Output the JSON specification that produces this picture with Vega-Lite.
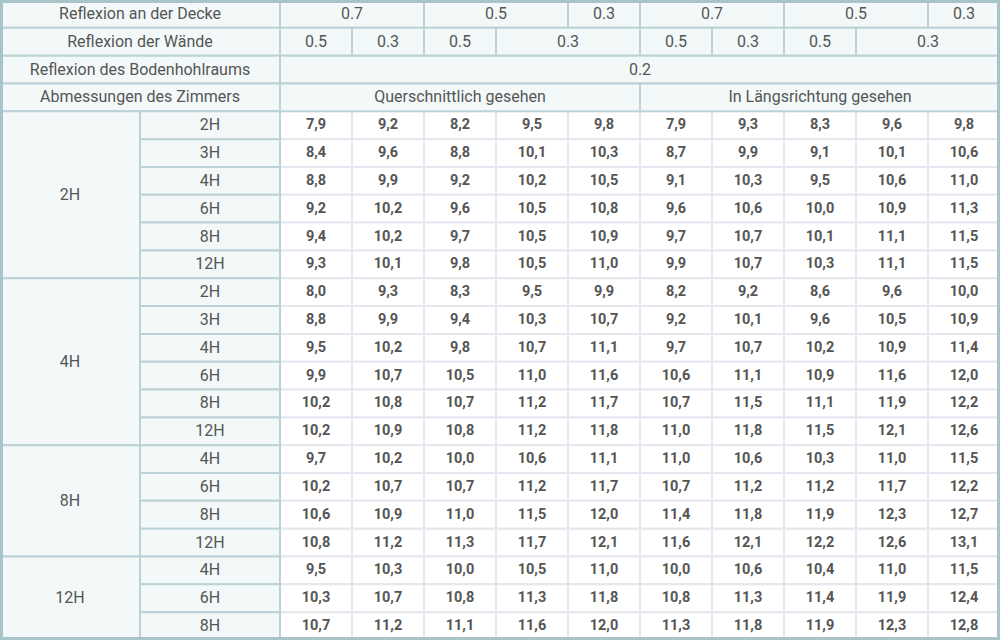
{
  "$schema": "https://vega.github.io/schema/vega-lite/v6.json",
  "width": 1000,
  "height": 640,
  "padding": 0,
  "autosize": {"type": "none"},
  "background": "#ffffff",
  "config": {"view": {"stroke": null}},
  "datasets": {
    "h": [
      {"r0":0,"r1":1,"c0":0,"c1":2,"t":"Reflexion an der Decke"},
      {"r0":0,"r1":1,"c0":2,"c1":4,"t":"0.7"},
      {"r0":0,"r1":1,"c0":4,"c1":6,"t":"0.5"},
      {"r0":0,"r1":1,"c0":6,"c1":7,"t":"0.3"},
      {"r0":0,"r1":1,"c0":7,"c1":9,"t":"0.7"},
      {"r0":0,"r1":1,"c0":9,"c1":11,"t":"0.5"},
      {"r0":0,"r1":1,"c0":11,"c1":12,"t":"0.3"},
      {"r0":1,"r1":2,"c0":0,"c1":2,"t":"Reflexion der Wände"},
      {"r0":1,"r1":2,"c0":2,"c1":3,"t":"0.5"},
      {"r0":1,"r1":2,"c0":3,"c1":4,"t":"0.3"},
      {"r0":1,"r1":2,"c0":4,"c1":5,"t":"0.5"},
      {"r0":1,"r1":2,"c0":5,"c1":7,"t":"0.3"},
      {"r0":1,"r1":2,"c0":7,"c1":8,"t":"0.5"},
      {"r0":1,"r1":2,"c0":8,"c1":9,"t":"0.3"},
      {"r0":1,"r1":2,"c0":9,"c1":10,"t":"0.5"},
      {"r0":1,"r1":2,"c0":10,"c1":12,"t":"0.3"},
      {"r0":2,"r1":3,"c0":0,"c1":2,"t":"Reflexion des Bodenhohlraums"},
      {"r0":2,"r1":3,"c0":2,"c1":12,"t":"0.2"},
      {"r0":3,"r1":4,"c0":0,"c1":2,"t":"Abmessungen des Zimmers"},
      {"r0":3,"r1":4,"c0":2,"c1":7,"t":"Querschnittlich gesehen"},
      {"r0":3,"r1":4,"c0":7,"c1":12,"t":"In Längsrichtung gesehen"},
      {"r0":4,"r1":10,"c0":0,"c1":1,"t":"2H"},
      {"r0":10,"r1":16,"c0":0,"c1":1,"t":"4H"},
      {"r0":16,"r1":20,"c0":0,"c1":1,"t":"8H"},
      {"r0":20,"r1":23,"c0":0,"c1":1,"t":"12H"},
      {"r0":4,"r1":5,"c0":1,"c1":2,"t":"2H"},
      {"r0":5,"r1":6,"c0":1,"c1":2,"t":"3H"},
      {"r0":6,"r1":7,"c0":1,"c1":2,"t":"4H"},
      {"r0":7,"r1":8,"c0":1,"c1":2,"t":"6H"},
      {"r0":8,"r1":9,"c0":1,"c1":2,"t":"8H"},
      {"r0":9,"r1":10,"c0":1,"c1":2,"t":"12H"},
      {"r0":10,"r1":11,"c0":1,"c1":2,"t":"2H"},
      {"r0":11,"r1":12,"c0":1,"c1":2,"t":"3H"},
      {"r0":12,"r1":13,"c0":1,"c1":2,"t":"4H"},
      {"r0":13,"r1":14,"c0":1,"c1":2,"t":"6H"},
      {"r0":14,"r1":15,"c0":1,"c1":2,"t":"8H"},
      {"r0":15,"r1":16,"c0":1,"c1":2,"t":"12H"},
      {"r0":16,"r1":17,"c0":1,"c1":2,"t":"4H"},
      {"r0":17,"r1":18,"c0":1,"c1":2,"t":"6H"},
      {"r0":18,"r1":19,"c0":1,"c1":2,"t":"8H"},
      {"r0":19,"r1":20,"c0":1,"c1":2,"t":"12H"},
      {"r0":20,"r1":21,"c0":1,"c1":2,"t":"4H"},
      {"r0":21,"r1":22,"c0":1,"c1":2,"t":"6H"},
      {"r0":22,"r1":23,"c0":1,"c1":2,"t":"8H"}
    ],
    "v": [
      {"r":1,"c":1,"t":"7,9"},{"r":1,"c":2,"t":"9,2"},{"r":1,"c":3,"t":"8,2"},{"r":1,"c":4,"t":"9,5"},{"r":1,"c":5,"t":"9,8"},{"r":1,"c":6,"t":"7,9"},{"r":1,"c":7,"t":"9,3"},{"r":1,"c":8,"t":"8,3"},{"r":1,"c":9,"t":"9,6"},{"r":1,"c":10,"t":"9,8"},
      {"r":2,"c":1,"t":"8,4"},{"r":2,"c":2,"t":"9,6"},{"r":2,"c":3,"t":"8,8"},{"r":2,"c":4,"t":"10,1"},{"r":2,"c":5,"t":"10,3"},{"r":2,"c":6,"t":"8,7"},{"r":2,"c":7,"t":"9,9"},{"r":2,"c":8,"t":"9,1"},{"r":2,"c":9,"t":"10,1"},{"r":2,"c":10,"t":"10,6"},
      {"r":3,"c":1,"t":"8,8"},{"r":3,"c":2,"t":"9,9"},{"r":3,"c":3,"t":"9,2"},{"r":3,"c":4,"t":"10,2"},{"r":3,"c":5,"t":"10,5"},{"r":3,"c":6,"t":"9,1"},{"r":3,"c":7,"t":"10,3"},{"r":3,"c":8,"t":"9,5"},{"r":3,"c":9,"t":"10,6"},{"r":3,"c":10,"t":"11,0"},
      {"r":4,"c":1,"t":"9,2"},{"r":4,"c":2,"t":"10,2"},{"r":4,"c":3,"t":"9,6"},{"r":4,"c":4,"t":"10,5"},{"r":4,"c":5,"t":"10,8"},{"r":4,"c":6,"t":"9,6"},{"r":4,"c":7,"t":"10,6"},{"r":4,"c":8,"t":"10,0"},{"r":4,"c":9,"t":"10,9"},{"r":4,"c":10,"t":"11,3"},
      {"r":5,"c":1,"t":"9,4"},{"r":5,"c":2,"t":"10,2"},{"r":5,"c":3,"t":"9,7"},{"r":5,"c":4,"t":"10,5"},{"r":5,"c":5,"t":"10,9"},{"r":5,"c":6,"t":"9,7"},{"r":5,"c":7,"t":"10,7"},{"r":5,"c":8,"t":"10,1"},{"r":5,"c":9,"t":"11,1"},{"r":5,"c":10,"t":"11,5"},
      {"r":6,"c":1,"t":"9,3"},{"r":6,"c":2,"t":"10,1"},{"r":6,"c":3,"t":"9,8"},{"r":6,"c":4,"t":"10,5"},{"r":6,"c":5,"t":"11,0"},{"r":6,"c":6,"t":"9,9"},{"r":6,"c":7,"t":"10,7"},{"r":6,"c":8,"t":"10,3"},{"r":6,"c":9,"t":"11,1"},{"r":6,"c":10,"t":"11,5"},
      {"r":7,"c":1,"t":"8,0"},{"r":7,"c":2,"t":"9,3"},{"r":7,"c":3,"t":"8,3"},{"r":7,"c":4,"t":"9,5"},{"r":7,"c":5,"t":"9,9"},{"r":7,"c":6,"t":"8,2"},{"r":7,"c":7,"t":"9,2"},{"r":7,"c":8,"t":"8,6"},{"r":7,"c":9,"t":"9,6"},{"r":7,"c":10,"t":"10,0"},
      {"r":8,"c":1,"t":"8,8"},{"r":8,"c":2,"t":"9,9"},{"r":8,"c":3,"t":"9,4"},{"r":8,"c":4,"t":"10,3"},{"r":8,"c":5,"t":"10,7"},{"r":8,"c":6,"t":"9,2"},{"r":8,"c":7,"t":"10,1"},{"r":8,"c":8,"t":"9,6"},{"r":8,"c":9,"t":"10,5"},{"r":8,"c":10,"t":"10,9"},
      {"r":9,"c":1,"t":"9,5"},{"r":9,"c":2,"t":"10,2"},{"r":9,"c":3,"t":"9,8"},{"r":9,"c":4,"t":"10,7"},{"r":9,"c":5,"t":"11,1"},{"r":9,"c":6,"t":"9,7"},{"r":9,"c":7,"t":"10,7"},{"r":9,"c":8,"t":"10,2"},{"r":9,"c":9,"t":"10,9"},{"r":9,"c":10,"t":"11,4"},
      {"r":10,"c":1,"t":"9,9"},{"r":10,"c":2,"t":"10,7"},{"r":10,"c":3,"t":"10,5"},{"r":10,"c":4,"t":"11,0"},{"r":10,"c":5,"t":"11,6"},{"r":10,"c":6,"t":"10,6"},{"r":10,"c":7,"t":"11,1"},{"r":10,"c":8,"t":"10,9"},{"r":10,"c":9,"t":"11,6"},{"r":10,"c":10,"t":"12,0"},
      {"r":11,"c":1,"t":"10,2"},{"r":11,"c":2,"t":"10,8"},{"r":11,"c":3,"t":"10,7"},{"r":11,"c":4,"t":"11,2"},{"r":11,"c":5,"t":"11,7"},{"r":11,"c":6,"t":"10,7"},{"r":11,"c":7,"t":"11,5"},{"r":11,"c":8,"t":"11,1"},{"r":11,"c":9,"t":"11,9"},{"r":11,"c":10,"t":"12,2"},
      {"r":12,"c":1,"t":"10,2"},{"r":12,"c":2,"t":"10,9"},{"r":12,"c":3,"t":"10,8"},{"r":12,"c":4,"t":"11,2"},{"r":12,"c":5,"t":"11,8"},{"r":12,"c":6,"t":"11,0"},{"r":12,"c":7,"t":"11,8"},{"r":12,"c":8,"t":"11,5"},{"r":12,"c":9,"t":"12,1"},{"r":12,"c":10,"t":"12,6"},
      {"r":13,"c":1,"t":"9,7"},{"r":13,"c":2,"t":"10,2"},{"r":13,"c":3,"t":"10,0"},{"r":13,"c":4,"t":"10,6"},{"r":13,"c":5,"t":"11,1"},{"r":13,"c":6,"t":"11,0"},{"r":13,"c":7,"t":"10,6"},{"r":13,"c":8,"t":"10,3"},{"r":13,"c":9,"t":"11,0"},{"r":13,"c":10,"t":"11,5"},
      {"r":14,"c":1,"t":"10,2"},{"r":14,"c":2,"t":"10,7"},{"r":14,"c":3,"t":"10,7"},{"r":14,"c":4,"t":"11,2"},{"r":14,"c":5,"t":"11,7"},{"r":14,"c":6,"t":"10,7"},{"r":14,"c":7,"t":"11,2"},{"r":14,"c":8,"t":"11,2"},{"r":14,"c":9,"t":"11,7"},{"r":14,"c":10,"t":"12,2"},
      {"r":15,"c":1,"t":"10,6"},{"r":15,"c":2,"t":"10,9"},{"r":15,"c":3,"t":"11,0"},{"r":15,"c":4,"t":"11,5"},{"r":15,"c":5,"t":"12,0"},{"r":15,"c":6,"t":"11,4"},{"r":15,"c":7,"t":"11,8"},{"r":15,"c":8,"t":"11,9"},{"r":15,"c":9,"t":"12,3"},{"r":15,"c":10,"t":"12,7"},
      {"r":16,"c":1,"t":"10,8"},{"r":16,"c":2,"t":"11,2"},{"r":16,"c":3,"t":"11,3"},{"r":16,"c":4,"t":"11,7"},{"r":16,"c":5,"t":"12,1"},{"r":16,"c":6,"t":"11,6"},{"r":16,"c":7,"t":"12,1"},{"r":16,"c":8,"t":"12,2"},{"r":16,"c":9,"t":"12,6"},{"r":16,"c":10,"t":"13,1"},
      {"r":17,"c":1,"t":"9,5"},{"r":17,"c":2,"t":"10,3"},{"r":17,"c":3,"t":"10,0"},{"r":17,"c":4,"t":"10,5"},{"r":17,"c":5,"t":"11,0"},{"r":17,"c":6,"t":"10,0"},{"r":17,"c":7,"t":"10,6"},{"r":17,"c":8,"t":"10,4"},{"r":17,"c":9,"t":"11,0"},{"r":17,"c":10,"t":"11,5"},
      {"r":18,"c":1,"t":"10,3"},{"r":18,"c":2,"t":"10,7"},{"r":18,"c":3,"t":"10,8"},{"r":18,"c":4,"t":"11,3"},{"r":18,"c":5,"t":"11,8"},{"r":18,"c":6,"t":"10,8"},{"r":18,"c":7,"t":"11,3"},{"r":18,"c":8,"t":"11,4"},{"r":18,"c":9,"t":"11,9"},{"r":18,"c":10,"t":"12,4"},
      {"r":19,"c":1,"t":"10,7"},{"r":19,"c":2,"t":"11,2"},{"r":19,"c":3,"t":"11,1"},{"r":19,"c":4,"t":"11,6"},{"r":19,"c":5,"t":"12,0"},{"r":19,"c":6,"t":"11,3"},{"r":19,"c":7,"t":"11,8"},{"r":19,"c":8,"t":"11,9"},{"r":19,"c":9,"t":"12,3"},{"r":19,"c":10,"t":"12,8"}
    ]
  },
  "layer": [
    {
      "data": {"name": "v"},
      "encoding": {
        "x": {"field": "c", "type": "ordinal", "scale": {"range": [280, 1000], "paddingInner": 0, "paddingOuter": 0}, "axis": null},
        "y": {"field": "r", "type": "ordinal", "scale": {"range": [111.3, 640], "paddingInner": 0, "paddingOuter": 0}, "axis": null}
      },
      "layer": [
        {"mark": {"type": "rect", "fill": "#ffffff", "stroke": "#e4e7ed", "strokeWidth": 2}},
        {"mark": {"type": "text", "font": "Roboto", "fontSize": 14.5, "fontWeight": "bold", "fill": "#555555", "baseline": "middle", "align": "center"}, "encoding": {"text": {"field": "t"}}}
      ]
    },
    {
      "data": {"name": "h"},
      "transform": [
        {"calculate": "(datum.c0 + datum.c1) / 2", "as": "xm"},
        {"calculate": "(datum.r0 + datum.r1) / 2", "as": "ym"}
      ],
      "layer": [
        {
          "mark": {"type": "rect", "fill": "#f3f9f9", "stroke": "#bcd2d7", "strokeWidth": 2},
          "encoding": {
            "x": {"field": "c0", "type": "quantitative", "scale": {"domain": [0, 1, 2, 12], "range": [0, 140, 280, 1000]}, "axis": null},
            "x2": {"field": "c1"},
            "y": {"field": "r0", "type": "quantitative", "scale": {"domain": [0, 23], "range": [0, 640]}, "axis": null},
            "y2": {"field": "r1"}
          }
        },
        {
          "mark": {"type": "text", "font": "Roboto", "fontSize": 16, "fill": "#555555", "baseline": "middle", "align": "center"},
          "encoding": {
            "x": {"field": "xm", "type": "quantitative", "scale": {"domain": [0, 1, 2, 12], "range": [0, 140, 280, 1000]}, "axis": null},
            "y": {"field": "ym", "type": "quantitative", "scale": {"domain": [0, 23], "range": [0, 640]}, "axis": null},
            "text": {"field": "t"}
          }
        }
      ]
    },
    {
      "data": {"values": [{"a": 0, "b": 12, "p": 0, "q": 23}]},
      "mark": {"type": "rect", "fill": null, "fillOpacity": 0, "stroke": "#a9c3ca", "strokeWidth": 6},
      "encoding": {
        "x": {"field": "a", "type": "quantitative", "scale": {"domain": [0, 1, 2, 12], "range": [0, 140, 280, 1000]}, "axis": null},
        "x2": {"field": "b"},
        "y": {"field": "p", "type": "quantitative", "scale": {"domain": [0, 23], "range": [0, 640]}, "axis": null},
        "y2": {"field": "q"}
      }
    }
  ],
  "resolve": {"scale": {"x": "independent", "y": "independent"}}
}
